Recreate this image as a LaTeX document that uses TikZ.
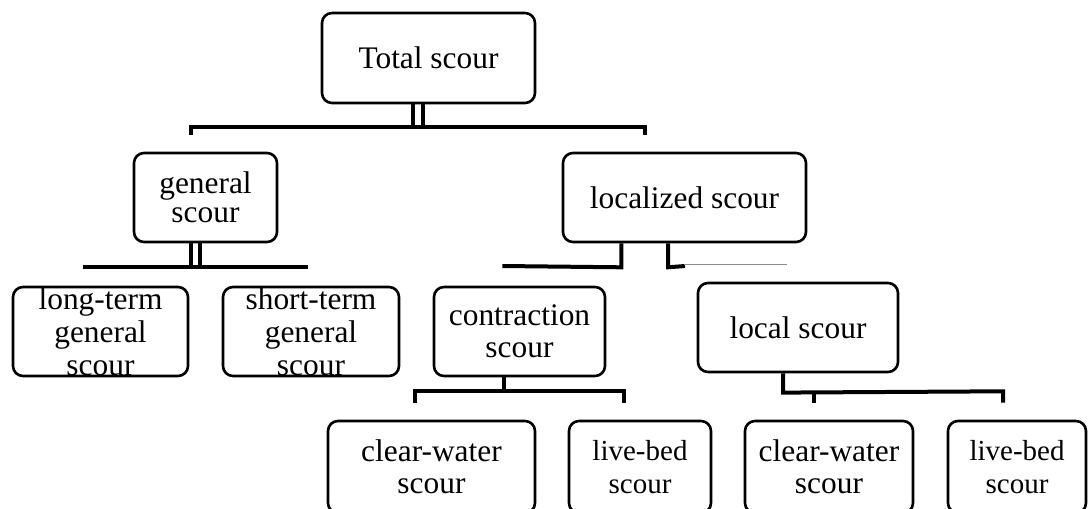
\documentclass[tikz,border=0pt]{standalone}
\usepackage{fontspec}
\setmainfont{Liberation Serif}
\usetikzlibrary{calc}
\begin{document}
\begin{tikzpicture}[x=1pt,y=-1pt,
  box/.style={draw,line width=2.6pt,rounded corners=10pt,inner sep=0pt,align=center,
    font=\fontsize{31.4}{32.5}\selectfont},
  small/.style={font=\fontsize{29}{33}\selectfont},
  conn/.style={line width=4pt},
  faint/.style={line width=1pt,draw=black!45}]
\clip (0,0) rectangle (1088,509);
% boxes
\node[box,minimum width=213pt,minimum height=90pt] (total) at (428.5,58) {Total scour};
\node[box,minimum width=143pt,minimum height=89pt,font=\fontsize{31.4}{29}\selectfont] (general) at (205.5,197.5) {general\\scour};
\node[box,minimum width=243pt,minimum height=89pt] (localized) at (684.5,197.5) {localized scour};
\node[box,minimum width=175pt,minimum height=89pt,font=\fontsize{31.4}{33}\selectfont] (longterm) at (100.5,331.5) {long-term\\general\\scour};
\node[box,minimum width=176pt,minimum height=89pt,font=\fontsize{31.4}{33}\selectfont] (shortterm) at (311,331.5) {short-term\\general\\scour};
\node[box,minimum width=171pt,minimum height=89pt] (contraction) at (519.5,331.5) {contraction\\scour};
\node[box,minimum width=200pt,minimum height=89pt] (local) at (798,327.5) {local scour};
\node[box,minimum width=207pt,minimum height=92pt] (cwa) at (431.5,467) {clear-water\\scour};
\node[box,small,minimum width=142pt,minimum height=92pt] (lba) at (640,467) {live-bed\\scour};
\node[box,minimum width=168pt,minimum height=92pt] (cwb) at (829,467) {clear-water\\scour};
\node[box,small,minimum width=138pt,minimum height=92pt] (lbb) at (1017,467) {live-bed\\scour};
% bar coordinates
\coordinate (tbL) at (191,127);
\coordinate (tbR) at (645,127);
\coordinate (gbL) at (82.7,267);
\coordinate (gbR) at (308.3,267);
\coordinate (lbL) at (502.3,266);
\coordinate (lbR) at (685,266);
\coordinate (fA) at (684,264.5);
\coordinate (fB) at (787,264.5);
\coordinate (cbL) at (415.3,391.3);
\coordinate (cbR) at (623.7,391.3);
\coordinate (sbR) at (1003,391.3);
\coordinate (sbT) at (813.7,391.3);
% Total scour connectors
\draw[conn] ($(total.south)+(-15.8,0)$) -- ($(total.south)+(-15.8,24)$);
\draw[conn] ($(total.south)+(-5.5,0)$) -- ($(total.south)+(-5.5,24)$);
\draw[conn] ($(tbL)+(0,8)$) -- (tbL) -- (tbR) -- ($(tbR)+(0,8)$);
% general scour connectors
\draw[conn] ($(general.south)+(-14.5,0)$) -- ($(general.south)+(-14.5,25)$);
\draw[conn] ($(general.south)+(-5.5,0)$) -- ($(general.south)+(-5.5,25)$);
\draw[conn] (gbL) -- (gbR);
% localized scour connectors
\draw[conn] ($(localized.south)+(-63.2,0)$) -- ($(localized.south)+(-63.2,24)$) -- (lbL);
\draw[conn] ($(localized.south)+(-16.5,0)$) -- ($(localized.south)+(-16.5,24)$) -- (lbR);
\draw[faint] (fA) -- (fB);
% contraction scour connectors
\draw[conn] ($(contraction.south)+(-15.8,0)$) -- ($(contraction.south)+(-15.8,15.3)$);
\draw[conn] ($(cbL)+(0,11.4)$) -- (cbL) -- (cbR) -- ($(cbR)+(0,11.4)$);
% local scour connectors
\draw[conn] ($(local.south)+(-15,0)$) -- ($(local.south)+(-15,19.3)$) -- (sbR) -- ($(sbR)+(0,11.4)$);
\draw[conn] (sbT) -- ($(sbT)+(0,11.4)$);
\end{tikzpicture}
\end{document}
